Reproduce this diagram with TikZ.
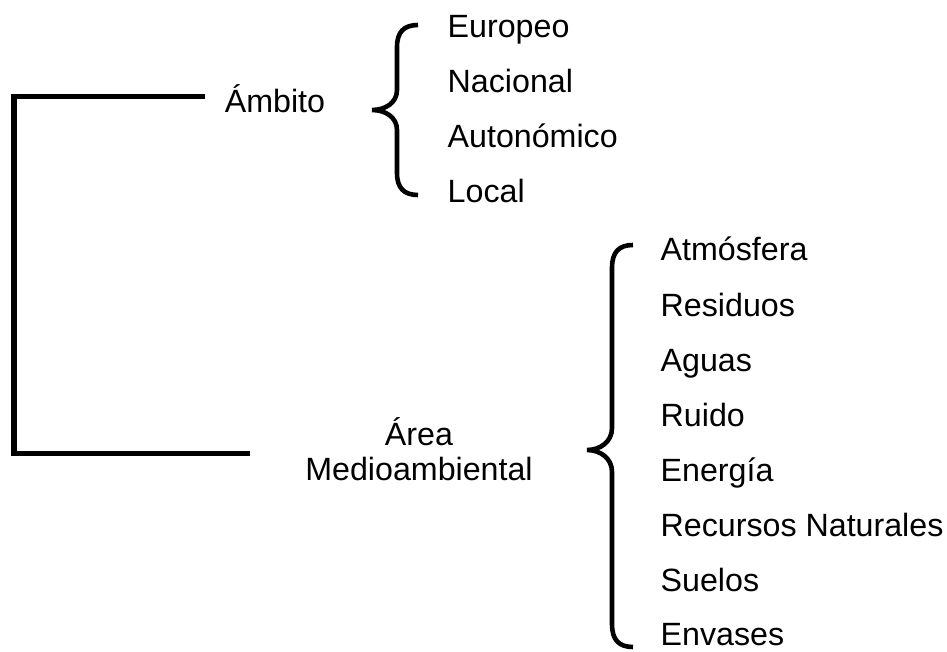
\documentclass[tikz,border=0pt]{standalone}
\usepackage{fontspec}
\setmainfont{Liberation Sans}
\begin{document}
\begin{tikzpicture}[x=1pt,y=-1pt,
  lbl/.style={inner sep=0pt,font=\fontsize{32.2}{35}\selectfont},
  item/.style={lbl,anchor=base west},
  bar/.style={line width=5.5pt,line join=miter,line cap=butt},
  brace/.style={line width=4.6pt,line cap=butt}]
\useasboundingbox (0,0) rectangle (947,652);
% group labels
\node[lbl,anchor=base] (ambito) at (275,113) {Ámbito};
\node[lbl,anchor=base,align=center] (area) at (419,480) {Área\\Medioambiental};
% left items
\node[item] (eu) at (447.5,38) {Europeo};
\node[item] (na) at (447.5,93) {Nacional};
\node[item] (au) at (447.5,148) {Autonómico};
\node[item] (lo) at (447.5,203) {Local};
% right items
\node[item] (at) at (660.5,261) {Atmósfera};
\node[item] (re) at (660.5,316) {Residuos};
\node[item] (ag) at (660.5,371) {Aguas};
\node[item] (ru) at (660.5,426) {Ruido};
\node[item] (en) at (660.5,481) {Energía};
\node[item] (rn) at (660.5,536) {Recursos Naturales};
\node[item] (su) at (660.5,591) {Suelos};
\node[item] (ev) at (660.5,645) {Envases};
% bracket connector
\coordinate (t1) at (205,96.5);
\coordinate (t2) at (250,453.5);
\draw[bar] (t1) -- (14,96.5) -- (14,453.5) -- (t2);
% brace 1
\draw[brace] (418,25) .. controls (404,25) and (397,32) .. (397,47) -- (397,90)
  .. controls (397,103) and (385,110) .. (372,110)
  .. controls (385,110) and (397,117) .. (397,130) -- (397,173)
  .. controls (397,188) and (404,195) .. (418,195);
% brace 2
\draw[brace] (633,245) .. controls (619,245) and (612,252) .. (612,268) -- (612,428)
  .. controls (612,442) and (600,450) .. (587,450)
  .. controls (600,450) and (612,458) .. (612,472) -- (612,624)
  .. controls (612,640) and (619,647) .. (633,647);
\end{tikzpicture}
\end{document}
